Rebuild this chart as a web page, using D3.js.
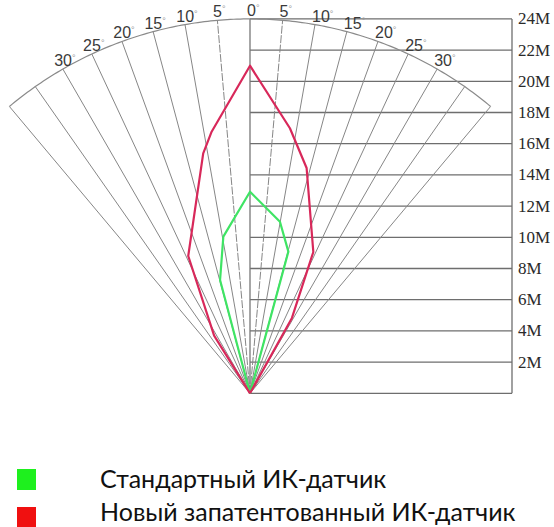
<!DOCTYPE html>
<html><head><meta charset="utf-8">
<script src="https://cdn.jsdelivr.net/npm/d3@7"></script>
<style>body{margin:0;background:#fff}svg{display:block}</style>
</head><body>
<svg id="c" width="554" height="527"></svg>
<script>
// ---- data ----
const rayAngles = [-40,-35,-30,-25,-20,-15,-10,-5,0,5,10,15,20,25,30,35,40];
const angleLabels = [-30,-25,-20,-15,-10,-5,0,5,10,15,20,25,30];
const distTicks = [2,4,6,8,10,12,14,16,18,20,22,24];
const distLabels = ["2M","4M","6M","8M","10M","12M","14M","16M","18M","20M","22M","24M"];
const maxDist = 24;
const gridWidth = 16.8; // meters to the right edge of the grid box
// lateral offset (m) and distance (m) of each outline vertex
const standardX = [0, -1.92, -1.71, 0, 1.92, 2.46, 0];
const standardY = [0, 7.26, 10.04, 12.92, 11.0, 9.08, 0];
const patentX = [0, -2.3, -3.96, -3.0, -2.46, 0, 2.56, 3.63, 4.06, 2.69, 0];
const patentY = [0, 3.7, 8.8, 15.38, 16.77, 21.0, 16.99, 14.44, 9.06, 4.83, 0];
const legendNames = ["Стандартный ИК-датчик", "Новый запатентованный ИК-датчик"];
const legendColors = ["#1ef01e", "#f01010"];
const seriesColors = ["#3fe464", "#d8285a"];

// ---- scales ----
const y = d3.scaleLinear().domain([0, maxDist]).range([393.3, 18.9]);
const x = d3.scaleLinear().domain([0, gridWidth]).range([250, 512]);
const svg = d3.select("#c");
const rad = a => a * Math.PI / 180;
const px = (r, a) => x(r * Math.sin(rad(a)));
const py = (r, a) => y(r * Math.cos(rad(a)));

// grid box on the right
const g = svg.append("g");
g.selectAll("line.h").data(distTicks).join("line")
  .attr("x1", x(0)).attr("x2", x(gridWidth))
  .attr("y1", d => y(d)).attr("y2", d => y(d))
  .attr("stroke", "#6e6e6e").attr("stroke-width", 1.3);
g.append("line").attr("x1", x(0)).attr("x2", x(gridWidth)).attr("y1", y(0)).attr("y2", y(0))
  .attr("stroke", "#6e6e6e").attr("stroke-width", 1.3);
g.append("line").attr("x1", x(gridWidth)).attr("x2", x(gridWidth)).attr("y1", y(0)).attr("y2", y(maxDist))
  .attr("stroke", "#6e6e6e").attr("stroke-width", 1.3);

// rays
g.selectAll("line.ray").data(rayAngles).join("line")
  .attr("x1", x(0)).attr("y1", y(0))
  .attr("x2", d => px(maxDist, d)).attr("y2", d => py(maxDist, d))
  .attr("stroke", d => d === 0 ? "#777" : "#868686")
  .attr("stroke-width", d => d === 0 ? 1.3 : 1)
  .attr("stroke-dasharray", d => Math.abs(d) === 5 ? "8,1.5" : null);

// arc
const arcPts = d3.range(-40, 40.01, 0.5);
g.append("path")
  .attr("d", d3.line().x(a => px(maxDist, a)).y(a => py(maxDist, a))(arcPts))
  .attr("fill", "none").attr("stroke", "#8a8a8a").attr("stroke-width", 1.2);

// angle labels
const al = g.selectAll("text.ang").data(angleLabels).join("text")
  .attr("font-family", "Liberation Sans, Arial, sans-serif")
  .attr("font-size", 16).attr("fill", "#3a3a3a")
  .attr("text-anchor", d => d < 0 ? "middle" : "start")
  .attr("x", d => d < 0 ? px(maxDist, d) + 2 : px(maxDist, d) - 3)
  .attr("y", d => py(maxDist, d) - 3);
al.append("tspan").text(d => Math.abs(d));
al.append("tspan").text("°").attr("font-size", 9).attr("fill", "#999").attr("dy", -5);

// distance labels
g.selectAll("text.dist").data(distTicks).join("text")
  .attr("x", x(gridWidth) + 6).attr("y", d => y(d))
  .attr("dominant-baseline", "central")
  .attr("font-family", "Liberation Serif, Times New Roman, serif")
  .attr("font-size", 17).attr("fill", "#2a2a2a")
  .text((d, i) => distLabels[i]);

// outlines
const outline = d3.line().x(d => x(d[0])).y(d => y(d[1]));
const series = [
  d3.zip(standardX, standardY),
  d3.zip(patentX, patentY)
];
svg.selectAll("path.s").data(series).join("path")
  .attr("d", d => outline(d))
  .attr("fill", "none")
  .attr("stroke", (d, i) => seriesColors[i])
  .attr("stroke-width", 2.2)
  .attr("stroke-linejoin", "round");

// legend
const lg = svg.append("g");
lg.selectAll("rect").data(legendNames).join("rect")
  .attr("x", 17).attr("y", (d, i) => 469 + i * 38)
  .attr("width", 19).attr("height", 21)
  .attr("fill", (d, i) => legendColors[i]);
lg.selectAll("text").data(legendNames).join("text")
  .attr("x", 100).attr("y", (d, i) => 488 + i * 33)
  .attr("font-family", "Lato, Open Sans, sans-serif")
  .attr("font-size", 25).attr("fill", "#111")
  .text(d => d);
</script>
</body></html>
